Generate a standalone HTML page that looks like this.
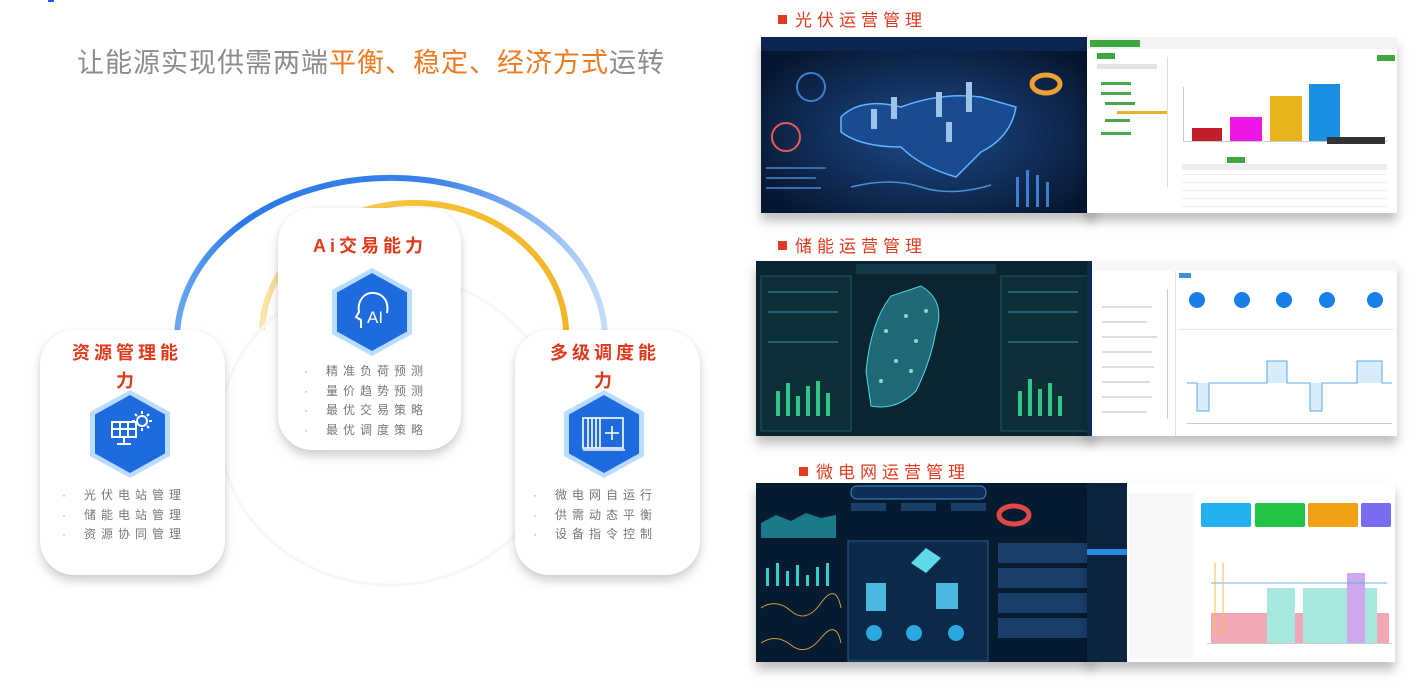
<!DOCTYPE html>
<html><head><meta charset="utf-8"><style>
*{margin:0;padding:0;box-sizing:border-box}
body{width:1426px;height:688px;background:#fff;position:relative;overflow:hidden;font-family:"Liberation Sans","Noto Sans CJK SC",sans-serif}
.a{position:absolute}
.title{left:77px;top:41px;font-size:27px;color:#8c8c8c;letter-spacing:1px;white-space:nowrap}
.title b{font-weight:normal;color:#f07a22}
.card{position:absolute;background:#fff;border-radius:34px;box-shadow:0 6px 10px rgba(0,0,0,.18),0 0 3px rgba(0,0,0,.06)}
.ct{position:absolute;color:#e0391c;font-weight:bold;font-size:18px;letter-spacing:4px;text-align:center;line-height:28px}
.hexg{position:absolute;width:80px;height:88px;clip-path:polygon(50% 0,100% 25%,100% 75%,50% 100%,0 75%,0 25%);background:#b9dcff}
.hex{position:absolute;left:5px;top:5px;width:70px;height:78px;clip-path:polygon(50% 0,100% 25%,100% 75%,50% 100%,0 75%,0 25%);background:#1e6be0}
.ul{position:absolute;font-size:12px;color:#777;letter-spacing:5px;line-height:19.5px;white-space:nowrap}
.ul span{display:inline-block;width:22px;color:#999}
.sh{position:absolute;color:#e03b1f;font-size:17px;letter-spacing:5px;white-space:nowrap}
.sh i{display:inline-block;width:9px;height:9px;background:#e03b1f;margin-right:8px;vertical-align:2px}
.scr{position:absolute;box-shadow:0 8px 10px rgba(0,0,0,.25)}
</style></head><body>
<div class="a" style="left:48px;top:0;width:6px;height:2px;background:#1a5cff"></div>
<div class="a title">让能源实现供需两端<b>平衡、稳定、经济方式</b>运转</div>

<svg class="a" style="left:0;top:0" width="740" height="688">
<defs>
<linearGradient id="bg1" x1="0" y1="0" x2="1" y2="0"><stop offset="0" stop-color="#6aa8f2"/><stop offset=".15" stop-color="#2a78e8"/><stop offset=".6" stop-color="#3b82ea"/><stop offset="1" stop-color="#c6dcf8"/></linearGradient>
<linearGradient id="yg" x1="0" y1="0" x2="1" y2="0"><stop offset="0" stop-color="#fbe4a8"/><stop offset=".5" stop-color="#f7c234"/><stop offset="1" stop-color="#f3b52a"/></linearGradient>
</defs>
<path d="M177 335 A214 162 0 0 1 605 345" fill="none" stroke="url(#bg1)" stroke-width="6"/>
<path d="M262 330 A152 132 0 0 1 566 340" fill="none" stroke="url(#yg)" stroke-width="6"/>
<ellipse cx="390" cy="430" rx="170" ry="155" fill="none" stroke="#f7f7f7" stroke-width="3"/>
</svg>

<!-- left card -->
<div class="card" style="left:40px;top:330px;width:185px;height:245px"></div>
<div class="ct" style="left:52px;top:339px;width:150px">资源管理能<br>力</div>
<div class="hexg" style="left:90px;top:390px"><div class="hex"></div></div>
<svg class="a" style="left:108px;top:408px" width="46" height="46" fill="none" stroke="#fff" stroke-width="2">
<rect x="4" y="14" width="24" height="15"/><path d="M4 21h24M12 14v15M20 14v15M16 29v6M9 36h14"/>
<circle cx="34" cy="13" r="5"/><path d="M34 3v3M34 20v3M24 13h3M41 13h3M27 6l2 2M41 6l-2 2M41 20l-2-2"/></svg>
<div class="ul" style="left:62px;top:486px"><span>·</span>光伏电站管理<br><span>·</span>储能电站管理<br><span>·</span>资源协同管理</div>

<!-- middle card -->
<div class="card" style="left:278px;top:208px;width:183px;height:242px"></div>
<div class="ct" style="left:290px;top:232px;width:160px">Ai交易能力</div>
<div class="hexg" style="left:332px;top:268px"><div class="hex"></div></div>
<svg class="a" style="left:347px;top:288px" width="50" height="46" fill="none" stroke="#fff" stroke-width="2">
<path d="M14 40V32l-5-3 3-5c-2-12 6-20 15-19 10 1 15 9 13 20"/><text x="20" y="35" fill="#fff" stroke="none" font-size="17" font-family="Liberation Sans">AI</text></svg>
<div class="ul" style="left:304px;top:362px"><span>·</span>精准负荷预测<br><span>·</span>量价趋势预测<br><span>·</span>最优交易策略<br><span>·</span>最优调度策略</div>

<!-- right card -->
<div class="card" style="left:515px;top:330px;width:185px;height:245px"></div>
<div class="ct" style="left:530px;top:339px;width:150px">多级调度能<br>力</div>
<div class="hexg" style="left:564px;top:390px"><div class="hex"></div></div>
<svg class="a" style="left:580px;top:414px" width="48" height="40" fill="none" stroke="#fff" stroke-width="1.6">
<rect x="3" y="4" width="40" height="30"/><path d="M8 4v30M12 4v30M16 4v30M20 4v30M25 19h14M32 12v14M3 36h42"/></svg>
<div class="ul" style="left:533px;top:486px"><span>·</span>微电网自运行<br><span>·</span>供需动态平衡<br><span>·</span>设备指令控制</div>

<!-- right side headers -->
<div class="sh" style="left:778px;top:6px"><i></i>光伏运营管理</div>
<div class="sh" style="left:778px;top:232px"><i></i>储能运营管理</div>
<div class="sh" style="left:799px;top:458px"><i></i>微电网运营管理</div>

<!-- dark 1 -->
<svg class="scr" style="left:761px;top:37px" width="334" height="176">
<defs><radialGradient id="r1" cx=".5" cy=".55" r=".6"><stop offset="0" stop-color="#1d4c8c"/><stop offset="1" stop-color="#071630"/></radialGradient></defs>
<rect width="334" height="176" fill="url(#r1)"/><rect width="334" height="14" fill="#0c2550"/>
<path d="M80 80 Q100 60 140 70 Q180 55 220 60 L255 70 Q250 100 220 115 L195 140 Q160 130 140 110 Q100 110 80 95Z" fill="#1a4a90" stroke="#5fb4ff" stroke-width="1.5"/>
<g fill="#9cc4e8"><rect x="110" y="72" width="6" height="20"/><rect x="130" y="60" width="6" height="22"/><rect x="175" y="55" width="6" height="25"/><rect x="205" y="45" width="6" height="30"/><rect x="185" y="85" width="6" height="20"/></g>
<circle cx="25" cy="100" r="14" fill="none" stroke="#e85a5a" stroke-width="2"/><circle cx="50" cy="50" r="14" fill="none" stroke="#3b7fd0" stroke-width="2"/>
<ellipse cx="285" cy="47" rx="14" ry="9" fill="none" stroke="#f0a030" stroke-width="5"/>
<path d="M90 150 Q130 140 160 150 T230 148" fill="none" stroke="#4a90d0" stroke-width="1.5"/>
<g fill="#3f7fd0"><rect x="255" y="140" width="3" height="30"/><rect x="265" y="133" width="3" height="37"/><rect x="275" y="138" width="3" height="32"/><rect x="285" y="145" width="3" height="25"/></g>
<g fill="#3a6ea8"><rect x="5" y="130" width="60" height="2"/><rect x="5" y="140" width="50" height="2"/><rect x="5" y="150" width="55" height="2"/></g>
</svg>
<!-- light 1 -->
<svg class="scr" style="left:1087px;top:37px" width="310" height="176">
<rect width="310" height="176" fill="#fff"/><rect width="310" height="12" fill="#f2f4f2"/><rect x="3" y="3" width="50" height="7" fill="#3ea83e"/>
<rect x="10" y="16" width="18" height="6" fill="#3ea83e"/><rect x="10" y="27" width="60" height="5" fill="#e4e4e4"/>
<g fill="#4aa84a"><rect x="14" y="45" width="30" height="3"/><rect x="14" y="55" width="30" height="3"/><rect x="18" y="65" width="30" height="3"/><rect x="18" y="82" width="25" height="3"/><rect x="14" y="95" width="30" height="3"/></g>
<rect x="30" y="74" width="50" height="3" fill="#e8b030"/>
<rect x="80" y="20" width="1" height="130" fill="#ddd"/><rect x="290" y="18" width="18" height="6" fill="#3ea83e"/>
<rect x="105" y="91" width="30" height="13" fill="#c41e2c"/><rect x="143" y="80" width="32" height="24" fill="#f016e8"/><rect x="183" y="59" width="32" height="45" fill="#e8b21c"/><rect x="222" y="47" width="31" height="57" fill="#1a8ee0"/>
<rect x="96" y="50" width="1" height="55" fill="#ccc"/><rect x="96" y="104" width="205" height="1" fill="#ccc"/><rect x="240" y="100" width="58" height="7" fill="#333"/>
<rect x="140" y="120" width="18" height="6" fill="#3ea83e"/>
<g fill="#eee"><rect x="95" y="127" width="205" height="6"/><rect x="95" y="137" width="205" height="1"/><rect x="95" y="145" width="205" height="1"/><rect x="95" y="153" width="205" height="1"/><rect x="95" y="161" width="205" height="1"/><rect x="95" y="169" width="205" height="1"/></g>
</svg>

<!-- dark 2 -->
<svg class="scr" style="left:756px;top:261px" width="338" height="175">
<rect width="338" height="175" fill="#0a2530"/><rect x="5" y="15" width="90" height="155" fill="#0d3038" stroke="#1f5a60"/><rect x="245" y="15" width="88" height="155" fill="#0d3038" stroke="#1f5a60"/>
<rect x="100" y="3" width="140" height="10" fill="#123a48"/>
<path d="M110 110 Q115 60 135 35 L165 25 Q190 40 180 70 Q175 100 160 130 Q140 150 115 145Z" fill="#1e6878" stroke="#4fd8e0"/>
<g fill="#7fe0c0"><circle cx="130" cy="70" r="2"/><circle cx="150" cy="55" r="2"/><circle cx="160" cy="80" r="2"/><circle cx="140" cy="100" r="2"/><circle cx="125" cy="120" r="2"/><circle cx="155" cy="110" r="2"/><circle cx="170" cy="50" r="2"/></g>
<g fill="#2ec48a"><rect x="20" y="130" width="4" height="25"/><rect x="30" y="122" width="4" height="33"/><rect x="40" y="135" width="4" height="20"/><rect x="50" y="125" width="4" height="30"/><rect x="60" y="120" width="4" height="35"/><rect x="70" y="132" width="4" height="23"/><rect x="262" y="130" width="4" height="25"/><rect x="272" y="118" width="4" height="37"/><rect x="282" y="128" width="4" height="27"/><rect x="292" y="122" width="4" height="33"/><rect x="302" y="135" width="4" height="20"/></g>
<g fill="#2a6070"><rect x="12" y="30" width="70" height="2"/><rect x="12" y="50" width="70" height="2"/><rect x="12" y="80" width="70" height="2"/><rect x="252" y="30" width="70" height="2"/><rect x="252" y="50" width="70" height="2"/><rect x="252" y="80" width="70" height="2"/></g>
</svg>
<!-- light 2 -->
<svg class="scr" style="left:1087px;top:261px" width="310" height="175">
<rect width="310" height="175" fill="#fff"/><rect width="5" height="175" fill="#0d2a50"/><rect x="5" y="0" width="305" height="10" fill="#f6f7fa"/>
<rect x="88" y="10" width="1" height="165" fill="#e2e2e2"/><rect x="80" y="28" width="1" height="130" fill="#ccc"/>
<g fill="#ddd"><rect x="15" y="45" width="50" height="2"/><rect x="15" y="60" width="45" height="2"/><rect x="15" y="75" width="55" height="2"/><rect x="15" y="90" width="50" height="2"/><rect x="15" y="105" width="52" height="2"/><rect x="15" y="120" width="48" height="2"/><rect x="15" y="135" width="50" height="2"/><rect x="15" y="150" width="45" height="2"/></g>
<rect x="92" y="12" width="12" height="5" fill="#3a8fe0"/>
<g fill="#1a7fe8"><circle cx="110" cy="39" r="8"/><circle cx="155" cy="39" r="8"/><circle cx="197" cy="39" r="8"/><circle cx="240" cy="39" r="8"/><circle cx="288" cy="39" r="8"/></g>
<rect x="92" y="68" width="215" height="1" fill="#e6e6e6"/>
<path d="M100 122 H110 V150 H122 V122 H180 V100 H200 V122 H223 V150 H235 V122 H270 V100 H295 V122 H305" fill="#d8ecfa" stroke="#5aa8e8"/>
<rect x="100" y="162" width="205" height="1" fill="#ccc"/>
</svg>

<!-- dark 3 -->
<svg class="scr" style="left:756px;top:483px" width="337" height="179">
<rect width="337" height="179" fill="#061a30"/><rect x="95" y="3" width="135" height="13" rx="6" fill="#0e2f55" stroke="#3d8ad0"/>
<path d="M5 40 L20 32 L35 38 L50 30 L65 35 L80 32 V55 H5Z" fill="#1b7a8a"/>
<g fill="#2ed0d0"><rect x="10" y="85" width="3" height="18"/><rect x="20" y="80" width="3" height="23"/><rect x="30" y="88" width="3" height="15"/><rect x="40" y="82" width="3" height="21"/><rect x="50" y="92" width="3" height="11"/><rect x="60" y="84" width="3" height="19"/><rect x="70" y="80" width="3" height="23"/></g>
<path d="M5 125 Q20 115 35 128 T65 120 T85 125" fill="none" stroke="#c8a040"/><path d="M5 160 Q20 150 35 162 T65 155 T85 160" fill="none" stroke="#c8a040"/>
<rect x="92" y="58" width="140" height="120" fill="#0b2a4a" stroke="#2a5a90"/>
<g fill="#2aa8e0"><circle cx="118" cy="150" r="8"/><circle cx="158" cy="150" r="8"/><circle cx="200" cy="150" r="8"/></g>
<path d="M155 80 L170 65 L185 75 L170 90Z" fill="#5fd8e8"/><rect x="110" y="100" width="20" height="28" fill="#4ab8e0"/><rect x="180" y="100" width="22" height="26" fill="#4ab8e0"/>
<ellipse cx="258" cy="32" rx="15" ry="9" fill="none" stroke="#e04848" stroke-width="5"/>
<g fill="#1a3f6a"><rect x="242" y="60" width="90" height="20"/><rect x="242" y="85" width="90" height="20"/><rect x="242" y="110" width="90" height="20"/><rect x="242" y="135" width="90" height="20"/><rect x="95" y="20" width="35" height="8"/><rect x="145" y="20" width="35" height="8"/><rect x="195" y="20" width="35" height="8"/></g>
</svg>
<!-- light 3 -->
<svg class="scr" style="left:1087px;top:483px" width="308" height="179">
<rect width="308" height="179" fill="#fff"/><rect width="40" height="179" fill="#0d2440"/><rect x="0" y="66" width="40" height="6" fill="#2a8ae8"/>
<rect x="42" y="10" width="65" height="165" fill="#f7f8fa"/>
<rect x="114" y="20" width="50" height="24" rx="2" fill="#22b0ee"/><rect x="168" y="20" width="50" height="24" rx="2" fill="#22c444"/><rect x="221" y="20" width="50" height="24" rx="2" fill="#f2a018"/><rect x="274" y="20" width="30" height="24" rx="2" fill="#7a6cf0"/>
<rect x="124" y="130" width="56" height="30" fill="#f2a8b4"/><rect x="180" y="105" width="28" height="55" fill="#a8e6e0"/><rect x="208" y="130" width="8" height="30" fill="#f2a8b4"/><rect x="216" y="105" width="44" height="55" fill="#a8e6e0"/><rect x="260" y="90" width="18" height="70" fill="#d0a8ee"/><rect x="278" y="105" width="12" height="55" fill="#a8e6e0"/><rect x="290" y="130" width="12" height="30" fill="#f2a8b4"/>
<path d="M124 100 H300" stroke="#6ab0e8"/><path d="M128 80 V150 H136 V80" fill="none" stroke="#f0c040"/>
<rect x="120" y="160" width="185" height="1" fill="#ccc"/>
</svg>
</body></html>
